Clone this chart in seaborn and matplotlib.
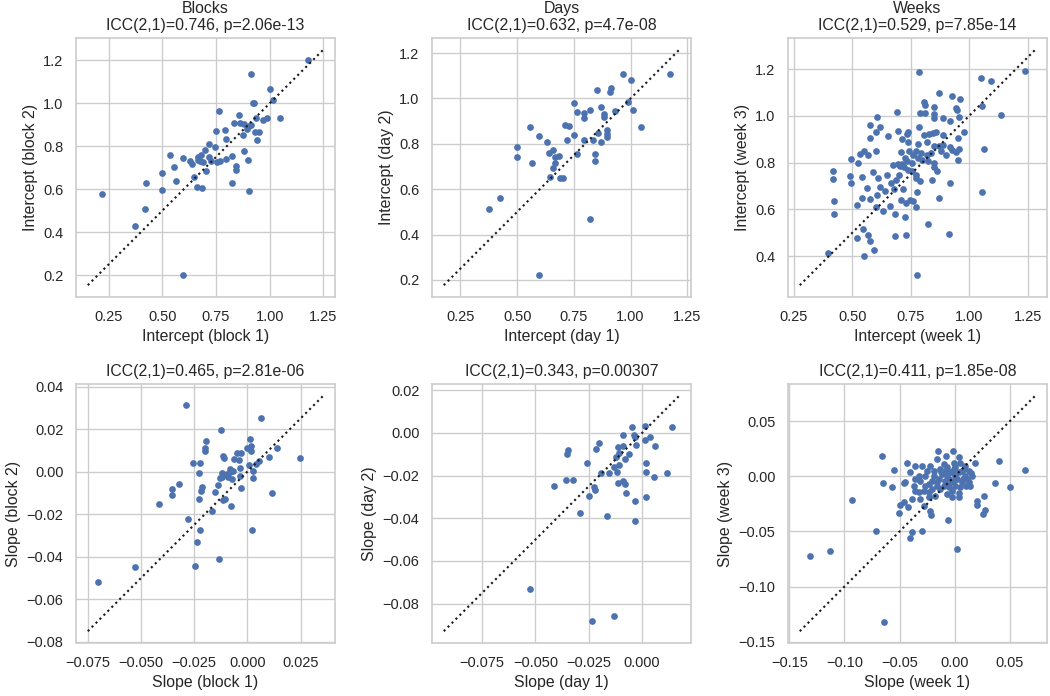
import matplotlib
matplotlib.use("Agg")
import matplotlib.pyplot as plt
import seaborn as sns

# ---------------- data ----------------
block1_int = [1.177, 0.913, 1.002, 1.016, 0.921, 0.929, 0.766, 0.856, 1.048, 0.989,
              0.938, 0.969, 0.835, 0.863, 0.879, 0.902, 0.913, 0.894, 0.750, 0.793,
              0.933, 0.952, 0.874, 0.798, 0.941, 0.716, 0.748, 0.882, 0.700, 0.536,
              0.682, 0.595, 0.668, 0.717, 0.823, 0.798, 0.629, 0.665, 0.674, 0.688,
              0.725, 0.755, 0.767, 0.901, 0.638, 0.845, 0.556, 0.845, 0.702, 0.498,
              0.646, 0.565, 0.425, 0.825, 0.661, 0.686, 0.497, 0.902, 0.219, 0.418,
              0.374, 0.596]
block2_int = [1.200, 1.135, 1.065, 1.018, 1.003, 1.000, 0.964, 0.944, 0.931, 0.930,
              0.933, 0.922, 0.911, 0.908, 0.902, 0.897, 0.900, 0.883, 0.872, 0.874,
              0.868, 0.869, 0.855, 0.834, 0.830, 0.812, 0.795, 0.779, 0.781, 0.761,
              0.761, 0.745, 0.751, 0.750, 0.753, 0.743, 0.733, 0.737, 0.730, 0.725,
              0.730, 0.728, 0.734, 0.737, 0.719, 0.708, 0.703, 0.689, 0.684, 0.678,
              0.655, 0.638, 0.627, 0.629, 0.612, 0.604, 0.598, 0.591, 0.577, 0.507,
              0.431, 0.203]

day1_int = [0.966, 1.175, 1.000, 0.914, 0.911, 0.854, 0.749, 0.988, 0.870, 0.820,
            1.012, 0.932, 0.766, 0.794, 0.882, 0.882, 0.797, 1.045, 0.558, 0.713,
            0.727, 0.898, 0.858, 0.898, 0.751, 0.898, 0.595, 0.719, 0.795, 0.834,
            0.870, 0.630, 0.499, 0.659, 0.639, 0.766, 0.844, 0.685, 0.498, 0.665,
            0.844, 0.567, 0.668, 0.659, 0.646, 0.688, 0.703, 0.426, 0.378, 0.823,
            0.597]
day2_int = [1.110, 1.110, 1.083, 1.048, 1.030, 1.036, 0.981, 0.986, 0.961, 0.950,
            0.950, 0.946, 0.942, 0.934, 0.930, 0.918, 0.915, 0.874, 0.874, 0.882,
            0.877, 0.862, 0.848, 0.844, 0.838, 0.829, 0.834, 0.819, 0.819, 0.816,
            0.809, 0.809, 0.786, 0.775, 0.758, 0.757, 0.755, 0.748, 0.742, 0.741,
            0.724, 0.716, 0.716, 0.695, 0.655, 0.649, 0.649, 0.563, 0.513, 0.467,
            0.221]

week1_int = [0.786, 1.240, 1.050, 1.092, 0.871, 0.928, 0.960, 0.809, 0.811, 0.851,
             0.942, 0.950, 1.055, 0.692, 0.791, 0.811, 0.848, 1.134, 0.605, 0.956,
             0.851, 0.888, 0.918, 0.578, 0.619, 0.785, 0.694, 0.739, 0.858, 0.845,
             0.601, 0.652, 0.736, 0.976, 0.808, 0.828, 0.889, 0.578, 0.712, 0.739,
             0.782, 0.822, 0.953, 0.889, 0.871, 0.851, 0.919, 0.958, 0.928, 1.062,
             0.943, 0.604, 0.551, 0.570, 0.534, 0.708, 0.742, 0.774, 0.793, 0.762,
             0.819, 0.839, 0.878, 0.903, 0.952, 0.494, 0.527, 0.694, 0.714, 0.736,
             0.782, 0.799, 0.825, 0.848, 0.722, 0.704, 0.738, 0.851, 0.861, 0.417,
             0.590, 0.754, 0.771, 0.701, 0.490, 0.648, 0.609, 0.417, 0.542, 0.772,
             0.792, 0.841, 0.689, 0.664, 0.495, 0.919, 0.564, 0.621, 0.640, 0.716,
             0.679, 0.778, 1.056, 0.541, 0.607, 0.575, 0.424, 0.872, 0.708, 0.748,
             0.761, 0.522, 0.602, 0.662, 0.732, 0.771, 0.632, 0.424, 0.685, 0.725,
             0.825, 0.545, 0.568, 0.684, 0.731, 0.913, 0.520, 0.577, 0.595, 0.550,
             0.397, 0.776, 0.754, 0.725, 0.675]
week3_int = [1.189, 1.191, 1.163, 1.147, 1.097, 1.083, 1.074, 1.059, 1.047, 1.039,
             1.033, 1.024, 1.041, 1.016, 1.013, 1.011, 1.009, 1.004, 0.994, 0.996,
             0.989, 0.991, 0.977, 0.961, 0.954, 0.951, 0.934, 0.930, 0.930, 0.927,
             0.930, 0.913, 0.923, 0.929, 0.920, 0.923, 0.916, 0.904, 0.899, 0.889,
             0.881, 0.889, 0.907, 0.877, 0.870, 0.869, 0.867, 0.857, 0.856, 0.860,
             0.844, 0.851, 0.849, 0.834, 0.839, 0.846, 0.851, 0.849, 0.841, 0.834,
             0.834, 0.840, 0.851, 0.831, 0.813, 0.814, 0.797, 0.796, 0.794, 0.806,
             0.820, 0.810, 0.806, 0.800, 0.780, 0.784, 0.769, 0.783, 0.763, 0.766,
             0.760, 0.763, 0.749, 0.746, 0.744, 0.746, 0.734, 0.729, 0.737, 0.734,
             0.723, 0.726, 0.727, 0.711, 0.713, 0.711, 0.691, 0.697, 0.680, 0.689,
             0.689, 0.673, 0.673, 0.651, 0.663, 0.643, 0.637, 0.647, 0.639, 0.639,
             0.636, 0.620, 0.611, 0.614, 0.629, 0.610, 0.594, 0.580, 0.580, 0.566,
             0.540, 0.517, 0.491, 0.487, 0.493, 0.496, 0.477, 0.467, 0.427, 0.403,
             0.416, 0.320, 0.797, 0.820, 0.791]

block1_slope = [-0.0288, 0.0062, -0.0126, 0.0012, -0.0193, 0.0017, -0.0199, 0.0140, -0.0003, -0.0199,
                -0.0050, -0.0030, 0.0019, -0.0115, -0.0109, 0.0100, 0.0248, -0.0064, -0.0040, 0.0055,
                0.0039, -0.0257, -0.0224, 0.0009, -0.0081, -0.0034, -0.0229, -0.0081, 0.0025, -0.0097,
                -0.0034, -0.0120, -0.0089, -0.0128, 0.0025, -0.0073, -0.0322, -0.0136, -0.0031, -0.0215,
                -0.0354, -0.0217, -0.0354, -0.0151, 0.0118, -0.0104, -0.0226, -0.0115, -0.0414, -0.0078,
                -0.0164, -0.0280, -0.0224, 0.0020, -0.0235, -0.0132, -0.0526, -0.0246, -0.0702, -0.0120,
                -0.0065]
block2_slope = [0.0315, 0.0252, 0.0196, 0.0153, 0.0142, 0.0122, 0.0109, 0.0112, 0.0112, 0.0095,
                0.0089, 0.0089, 0.0095, 0.0075, 0.0064, 0.0067, 0.0064, 0.0059, 0.0056, 0.0050,
                0.0036, 0.0041, 0.0041, 0.0031, 0.0012, 0.0019, -0.0006, -0.0003, 0.0002, -0.0012,
                -0.0019, -0.0023, -0.0023, -0.0031, -0.0028, -0.0034, -0.0058, -0.0061, -0.0076, -0.0070,
                -0.0083, -0.0089, -0.0108, -0.0097, -0.0101, -0.0128, -0.0129, -0.0131, -0.0151, -0.0162,
                -0.0184, -0.0220, -0.0276, -0.0276, -0.0329, -0.0410, -0.0447, -0.0444, -0.0516, -0.0006,
                0.0005]

day1_slope = [-0.0048, 0.0014, 0.0141, -0.0088, -0.0039, -0.0031, 0.0039, 0.0013, -0.0200, -0.0028,
              0.0063, -0.0091, -0.0113, -0.0347, -0.0216, -0.0353, -0.0063, -0.0106, -0.0122, -0.0081,
              -0.0256, 0.0020, -0.0106, -0.0133, -0.0153, -0.0192, -0.0117, 0.0020, 0.0117, 0.0055,
              -0.0355, -0.0322, -0.0089, -0.0114, -0.0078, -0.0414, -0.0225, -0.0220, -0.0075, -0.0247,
              0.0020, -0.0031, -0.0289, -0.0164, -0.0034, -0.0527, -0.0131, -0.0233]
day2_slope = [0.0027, 0.0033, 0.0027, -0.0011, -0.0009, -0.0019, -0.0017, -0.0033, -0.0047, -0.0055,
              -0.0063, -0.0059, -0.0067, -0.0081, -0.0077, -0.0099, -0.0099, -0.0092, -0.0113, -0.0122,
              -0.0141, -0.0142, -0.0149, -0.0160, -0.0186, -0.0188, -0.0183, -0.0183, -0.0186, -0.0207,
              -0.0222, -0.0219, -0.0224, -0.0236, -0.0241, -0.0250, -0.0252, -0.0269, -0.0282, -0.0297,
              -0.0300, -0.0319, -0.0377, -0.0390, -0.0412, -0.0734, -0.0858, -0.0884]

week1_slope = [-0.0662, -0.0148, -0.0015, -0.0079, -0.0432, 0.0399, -0.0547, 0.0635, -0.0650, -0.0568,
               -0.0457, 0.0369, 0.0502, -0.0928, 0.0263, 0.0200, -0.0499, -0.0423, 0.0275, 0.0257,
               -0.0508, -0.0215, -0.0057, -0.0717, -0.0299, -0.0384, -0.0402, -0.1134, -0.1309, 0.0024,
               -0.0638, -0.0160, 0.0036, 0.0187, -0.0357, -0.0296, -0.0221, -0.0070, -0.0009, 0.0082,
               0.0127, -0.0402, -0.0327, -0.0266, -0.0191, -0.0115, -0.0039, 0.0036, 0.0097, 0.0157,
               -0.0454, -0.0311, -0.0236, -0.0160, -0.0085, -0.0009, 0.0067, 0.0127, -0.0357, -0.0281,
               -0.0206, -0.0130, -0.0054, 0.0051, -0.0387, -0.0311, -0.0236, -0.0070, 0.0036, -0.0463,
               -0.0281, 0.0203, -0.0221, -0.0070, 0.0006, 0.0006, -0.0024, 0.0021, 0.0067, -0.0039,
               -0.0145, -0.0206, -0.0100, -0.0024, 0.0112, 0.0142, -0.0357, -0.0251, -0.0191, -0.0085,
               -0.0327, -0.0236, -0.0175, -0.0024, 0.0006, 0.0097, -0.0130, -0.0372, -0.0266, -0.0100,
               0.0050, -0.0050, 0.0080, -0.0160, 0.0040, -0.0010, 0.0150, -0.0120, 0.0100]
week3_slope = [0.0185, 0.0228, 0.0228, 0.0185, 0.0119, 0.0137, 0.0061, 0.0055, -0.0061, -0.0097,
               -0.0061, -0.0061, -0.0097, -0.0213, -0.0179, -0.0258, -0.0258, -0.0277, -0.0301, -0.0343,
               -0.0334, -0.0350, -0.0398, -0.0498, -0.0498, -0.0505, -0.0556, -0.0681, -0.0720, -0.0660,
               -0.1322, 0.0158, 0.0173, 0.0122, 0.0091, 0.0091, 0.0091, 0.0082, 0.0067, 0.0067,
               0.0052, 0.0036, 0.0006, 0.0006, 0.0006, 0.0021, 0.0036, 0.0036, 0.0006, 0.0006,
               -0.0055, -0.0040, -0.0070, -0.0055, -0.0040, -0.0040, -0.0055, -0.0055, -0.0131, -0.0131,
               -0.0116, -0.0116, -0.0100, -0.0100, -0.0207, -0.0207, -0.0191, -0.0161, -0.0191, -0.0237,
               -0.0267, -0.0222, -0.0313, 0.0006, 0.0006, -0.0085, 0.0036, -0.0024, 0.0052, -0.0055,
               -0.0024, -0.0040, -0.0085, -0.0131, -0.0024, -0.0085, -0.0024, 0.0052, 0.0052, 0.0052,
               -0.0146, -0.0146, -0.0176, -0.0191, 0.0082, 0.0097, 0.0067, -0.0085, -0.0085, 0.0110,
               0.0120, -0.0020, -0.0020, -0.0090, -0.0150, 0.0120, 0.0030, 0.0040, -0.0090]

titles = ["Blocks\nICC(2,1)=0.746, p=2.06e-13",
          "Days\nICC(2,1)=0.632, p=4.7e-08",
          "Weeks\nICC(2,1)=0.529, p=7.85e-14",
          "ICC(2,1)=0.465, p=2.81e-06",
          "ICC(2,1)=0.343, p=0.00307",
          "ICC(2,1)=0.411, p=1.85e-08"]
xlabels = ["Intercept (block 1)", "Intercept (day 1)", "Intercept (week 1)",
           "Slope (block 1)", "Slope (day 1)", "Slope (week 1)"]
ylabels = ["Intercept (block 2)", "Intercept (day 2)", "Intercept (week 3)",
           "Slope (block 2)", "Slope (day 2)", "Slope (week 3)"]

xs = [block1_int, day1_int, week1_int, block1_slope, day1_slope, week1_slope]
ys = [block2_int, day2_int, week3_int, block2_slope, day2_slope, week3_slope]

# ---------------- figure ----------------
sns.set_theme(style="whitegrid", context="notebook")
plt.rcParams["font.family"] = ["Liberation Sans", "DejaVu Sans"]

W, H, DPI = 1050, 696, 95
fig, axes = plt.subplots(2, 3, figsize=(W / DPI, H / DPI), dpi=DPI)
lefts = [76, 432, 788]
tops = [38, 384]
size = 259
color = sns.color_palette("deep")[0]

for i, ax in enumerate(axes.flat):
    r, c = divmod(i, 3)
    ax.set_position([lefts[c] / W, 1 - (tops[r] + size) / H, size / W, size / H])
    sns.scatterplot(x=xs[i], y=ys[i], ax=ax, s=26, linewidth=0, color=color)
    xl, yl = ax.get_xlim(), ax.get_ylim()
    lo, hi = min(xl[0], yl[0]), max(xl[1], yl[1])
    ax.plot([lo, hi], [lo, hi], color="k", linestyle=":", linewidth=1.6)
    ax.set_title(titles[i])
    ax.set_xlabel(xlabels[i])
    ax.set_ylabel(ylabels[i])

fig.savefig("out.png", dpi=DPI)
